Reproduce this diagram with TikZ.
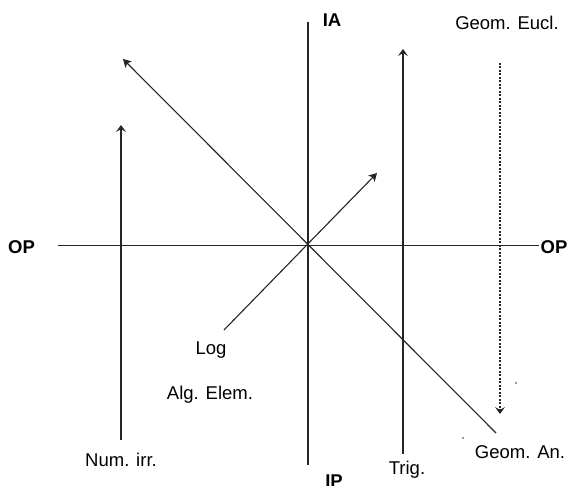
\documentclass[tikz,border=0pt]{standalone}
\usepackage{fontspec}
\setmainfont{Liberation Sans}
\usetikzlibrary{arrows.meta}
\begin{document}
\begin{tikzpicture}[x=1pt,y=-1pt,
  lbl/.style={inner sep=0pt,anchor=base,font=\fontsize{18.5}{20}\selectfont},
  axlbl/.style={lbl,font=\fontsize{18.5}{20}\selectfont\bfseries},
  axis/.style={line width=1.8pt,black!85},
  varrow/.style={line width=1.6pt,black!85,-{Stealth[length=7pt,width=10pt,inset=3pt]}},
  darrow/.style={line width=1.1pt,black!85,-{Stealth[length=8pt,width=9pt,inset=2pt]}},
  dasharrow/.style={line width=1.4pt,black!85,dash pattern=on 2pt off 1.5pt,-{Stealth[length=7pt,width=10pt,inset=3pt]}}]
\useasboundingbox (0,0) rectangle (568,486);
% coordinates
\coordinate (hL) at (58,245.5);
\coordinate (hR) at (539,245.5);
\coordinate (vT) at (308,22);
\coordinate (vB) at (308,465);
\coordinate (niB) at (121,440);
\coordinate (niT) at (121,125);
\coordinate (trB) at (403,454);
\coordinate (trT) at (403,49);
\coordinate (geT) at (500,63);
\coordinate (geB) at (500,414);
\coordinate (bdB) at (496,433);
\coordinate (bdT) at (123,59);
\coordinate (sdB) at (224,330);
\coordinate (sdT) at (377,173);
% labels
\node[axlbl] (opl) at (21.5,254) {OP};
\node[axlbl] (opr) at (554,254) {OP};
\node[axlbl] (ia) at (332,27) {IA};
\node[axlbl] (ip) at (334,487) {IP};
\node[lbl] (geu) at (507,30) {Geom. Eucl.};
\node[lbl] (gan) at (520,458) {Geom. An.};
\node[lbl] (trig) at (407,474) {Trig.};
\node[lbl] (nirr) at (121,466) {Num. irr.};
\node[lbl] (log) at (211,355) {Log};
\node[lbl] (alg) at (210,400) {Alg. Elem.};
% axes
\draw[axis] (hL) -- (hR);
\draw[axis] (vT) -- (vB);
% arrows
\draw[varrow] (niB) -- (niT);
\draw[varrow] (trB) -- (trT);
\draw[dasharrow] (geT) -- (geB);
\draw[darrow] (bdB) -- (bdT);
\draw[darrow] (sdB) -- (sdT);
% stray dots
\fill[black!80] (516,383) circle (0.8pt);
\fill[black!80] (463,438) circle (0.8pt);
\end{tikzpicture}
\end{document}
